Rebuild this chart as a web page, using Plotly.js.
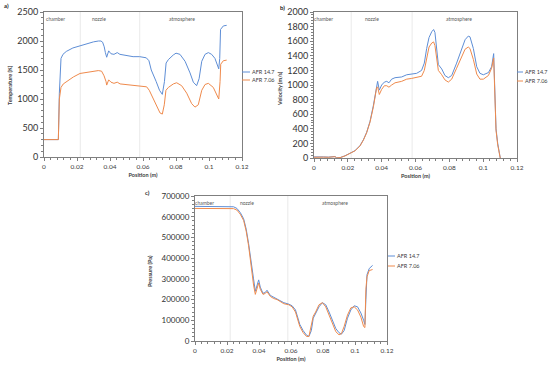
<!DOCTYPE html>
<html>
<head>
<meta charset="utf-8">
<script src="https://cdn.plot.ly/plotly-3.0.1.min.js"></script>
<style>html,body{margin:0;padding:0;background:#fff;}#chart{width:550px;height:368px;}</style>
</head>
<body>
<div id="chart"></div>
<script>
// ---------- DATA ----------
var seriesNames = ["AFR 14.7", "AFR 7.06"];
var regionLabels = ["chamber", "nozzle", "atmosphere"];
var regionLabelX_a = [0.0067, 0.0335, 0.0834];
var regionLabelX_b = [0.0057, 0.0345, 0.0855];
var regionLabelX_c = [0.006, 0.0327, 0.0878];
var regionBounds = [0.022, 0.058];
var xTickVals = [0, 0.02, 0.04, 0.06, 0.08, 0.1, 0.12];
var yTitles = ["Temperature (K)", "Velocity (m/s)", "Pressure (Pa)"];

// a) Temperature
var tempX_147 = [0, 0.0087, 0.0093, 0.0103, 0.0115, 0.0135, 0.0175, 0.0218, 0.026, 0.030, 0.033, 0.0345, 0.0355, 0.0365, 0.0372, 0.038, 0.0392, 0.0406, 0.0424, 0.0444, 0.046, 0.048, 0.051, 0.054, 0.058, 0.062, 0.0636, 0.065, 0.068, 0.070, 0.0717, 0.073, 0.074, 0.0754, 0.0784, 0.080, 0.0824, 0.0855, 0.0885, 0.0905, 0.0925, 0.094, 0.0956, 0.0976, 0.0996, 0.1016, 0.1036, 0.105, 0.1059, 0.1065, 0.107, 0.1087, 0.1107];
var temp_147 = [300, 300, 1100, 1700, 1770, 1820, 1880, 1920, 1950, 1985, 2000, 2000, 1980, 1900, 1800, 1720, 1830, 1780, 1770, 1800, 1770, 1760, 1750, 1730, 1730, 1710, 1660, 1500, 1300, 1150, 1080, 1300, 1620, 1680, 1760, 1790, 1770, 1650, 1450, 1290, 1230, 1350, 1650, 1770, 1800, 1770, 1700, 1600, 1520, 1700, 2200, 2260, 2270];
var tempX_706 = [0, 0.0087, 0.0093, 0.0103, 0.0117, 0.0137, 0.0178, 0.0218, 0.0259, 0.0299, 0.0329, 0.0349, 0.0364, 0.0376, 0.038, 0.0392, 0.0406, 0.0424, 0.0444, 0.0461, 0.0501, 0.0541, 0.0582, 0.0622, 0.0638, 0.0663, 0.0683, 0.0703, 0.0717, 0.0729, 0.0739, 0.0754, 0.0784, 0.0804, 0.0834, 0.0865, 0.0895, 0.0915, 0.0935, 0.0956, 0.0976, 0.0996, 0.1026, 0.1046, 0.1059, 0.1067, 0.1071, 0.1087, 0.1107];
var temp_706 = [300, 300, 1000, 1200, 1260, 1300, 1380, 1440, 1460, 1480, 1490, 1480, 1400, 1300, 1240, 1330, 1290, 1270, 1290, 1260, 1250, 1240, 1230, 1210, 1150, 1000, 850, 760, 740, 900, 1150, 1200, 1260, 1280, 1230, 1100, 920, 860, 900, 1150, 1250, 1270, 1200, 1080, 1000, 1300, 1600, 1660, 1670];

// b) Velocity
var velX = [0, 0.0026, 0.0055, 0.0085, 0.0104, 0.0114, 0.0124, 0.0134, 0.0154, 0.0183, 0.0213, 0.0242, 0.0272, 0.0292, 0.0311, 0.0331, 0.0351, 0.0361, 0.037, 0.0376, 0.0386, 0.04, 0.0416, 0.043, 0.0443, 0.0459, 0.0479, 0.0518, 0.0548, 0.0577, 0.0607, 0.0636, 0.0652, 0.0666, 0.068, 0.0696, 0.0707, 0.0715, 0.0725, 0.0735, 0.0755, 0.0774, 0.0794, 0.0814, 0.0843, 0.0873, 0.0893, 0.0912, 0.0922, 0.0942, 0.0962, 0.0981, 0.1001, 0.1031, 0.105, 0.1062, 0.107, 0.1076, 0.1086, 0.1096, 0.1101];
var vel_147 = [15, 18, 15, 12, 15, 25, 20, 3, 5, 30, 60, 100, 170, 250, 350, 500, 720, 850, 1000, 1050, 930, 1000, 1040, 1050, 1030, 1080, 1100, 1110, 1140, 1150, 1160, 1200, 1300, 1500, 1650, 1730, 1760, 1720, 1500, 1280, 1220, 1130, 1100, 1130, 1300, 1500, 1620, 1670, 1660, 1500, 1250, 1160, 1140, 1170, 1250, 1430, 900, 400, 200, 50, 0];
var vel_706 = [10, 15, 12, 10, 12, 20, 18, 2, 5, 28, 58, 98, 165, 245, 345, 490, 700, 820, 960, 975, 870, 940, 990, 990, 970, 1000, 1030, 1050, 1080, 1090, 1100, 1120, 1200, 1380, 1520, 1575, 1590, 1540, 1350, 1200, 1140, 1070, 1040, 1080, 1230, 1400, 1490, 1520, 1500, 1350, 1150, 1080, 1080, 1130, 1230, 1370, 800, 380, 180, 40, 0];

// c) Pressure
var presX = [0, 0.0073, 0.0136, 0.0199, 0.0241, 0.0262, 0.0283, 0.0304, 0.032, 0.0335, 0.0346, 0.0356, 0.0366, 0.0377, 0.0387, 0.0398, 0.0408, 0.0425, 0.044, 0.045, 0.0471, 0.0492, 0.0513, 0.0534, 0.0555, 0.0586, 0.0607, 0.0628, 0.0639, 0.0655, 0.0676, 0.0697, 0.0712, 0.0727, 0.0739, 0.0754, 0.0775, 0.0796, 0.0817, 0.0838, 0.0859, 0.088, 0.09, 0.0915, 0.0932, 0.0953, 0.0974, 0.0995, 0.1016, 0.1037, 0.1054, 0.1062, 0.1068, 0.1075, 0.1089, 0.111];
var pres_147 = [650000, 650000, 650000, 650000, 648000, 640000, 620000, 590000, 540000, 470000, 400000, 340000, 300000, 240000, 265000, 295000, 260000, 230000, 235000, 245000, 220000, 212000, 205000, 195000, 185000, 178000, 170000, 150000, 120000, 80000, 50000, 28000, 22000, 50000, 110000, 130000, 165000, 185000, 175000, 140000, 100000, 60000, 40000, 33000, 50000, 110000, 150000, 170000, 165000, 135000, 100000, 80000, 200000, 320000, 350000, 365000];
var pres_706 = [640000, 640000, 640000, 640000, 639000, 632000, 612000, 582000, 530000, 460000, 390000, 330000, 270000, 225000, 250000, 280000, 250000, 225000, 230000, 238000, 215000, 205000, 200000, 190000, 180000, 175000, 165000, 140000, 110000, 70000, 40000, 22000, 22000, 70000, 120000, 140000, 175000, 185000, 165000, 125000, 80000, 45000, 30000, 35000, 70000, 125000, 160000, 165000, 150000, 115000, 70000, 65000, 250000, 310000, 340000, 345000];

// ---------- STYLE ----------
var colors = ["#5E8ED6", "#EF8A4C"];
var FONT = "Lato, 'Liberation Sans', sans-serif";
var W = 550, H = 368;
function px(x){ return x / W; }
function py(y){ return 1 - y / H; }

function line(x, y, i, xa, ya){
  return {x: x, y: y, type: "scatter", mode: "lines", name: seriesNames[i],
    xaxis: xa, yaxis: ya, showlegend: false,
    line: {color: colors[i], width: 1}, hoverinfo: "skip"};
}

var traces = [
  line(tempX_147, temp_147, 0, "x", "y"),
  line(tempX_706, temp_706, 1, "x", "y"),
  line(velX, vel_147, 0, "x2", "y2"),
  line(velX, vel_706, 1, "x2", "y2"),
  line(presX, pres_147, 0, "x3", "y3"),
  line(presX, pres_706, 1, "x3", "y3")
];

function xAxis(domain, anchor){
  return {domain: domain, anchor: anchor, range: [0, 0.12], tickvals: xTickVals,
    ticktext: xTickVals.map(function(v){return String(v);}),
    showgrid: false, zeroline: false, showline: true, mirror: true,
    linecolor: "#7f7f7f", linewidth: 1, ticks: "outside", ticklen: 3, tickcolor: "#7f7f7f",
    minor: {dtick: 0.004, ticks: "outside", ticklen: 2, tickcolor: "#7f7f7f", showgrid: false},
    tickfont: {family: FONT, size: 6.5, color: "#404040"},
    title: {text: "Position (m)", font: {family: FONT, size: 5.5, color: "#404040", weight: "bold"}, standoff: 4}};
}
function yAxis(domain, anchor, range, dtick, minorDtick, fsize){
  return {domain: domain, anchor: anchor, range: range, dtick: dtick, tickformat: "d",
    showgrid: false, zeroline: false, showline: true, mirror: true,
    linecolor: "#7f7f7f", linewidth: 1, ticks: "outside", ticklen: 3, tickcolor: "#7f7f7f",
    minor: {dtick: minorDtick, ticks: "outside", ticklen: 2, tickcolor: "#7f7f7f", showgrid: false},
    tickfont: {family: FONT, size: fsize, color: "#333333"}};
}

var layout = {
  width: W, height: H, margin: {l: 0, r: 0, t: 0, b: 0},
  paper_bgcolor: "#ffffff", plot_bgcolor: "#ffffff", showlegend: false,
  xaxis: xAxis([px(44), px(242)], "y"),
  yaxis: yAxis([py(157), py(12)], "x", [0, 2500], 500, 100, 9),
  xaxis2: xAxis([px(314), px(517)], "y2"),
  yaxis2: yAxis([py(158), py(12)], "x2", [0, 2000], 200, 40, 9),
  xaxis3: xAxis([px(195), px(387)], "y3"),
  yaxis3: yAxis([py(341), py(196)], "x3", [0, 700000], 100000, 20000, 8),
  font: {family: FONT, color: "#404040"}
};

var shapes = [];
var annotations = [];
var panels = [
  {x: "x", y: "y", lx: regionLabelX_a},
  {x: "x2", y: "y2", lx: regionLabelX_b},
  {x: "x3", y: "y3", lx: regionLabelX_c}
];
panels.forEach(function(p){
  regionBounds.forEach(function(b){
    shapes.push({type: "line", xref: p.x, yref: p.y + " domain", x0: b, x1: b, y0: 0, y1: 1,
      line: {color: "#e4e4e4", width: 0.8}, layer: "below"});
  });
  regionLabels.forEach(function(t, i){
    annotations.push({text: t, xref: p.x, yref: p.y + " domain", x: p.lx[i], y: 0.985,
      xanchor: "center", yanchor: "top", showarrow: false,
      font: {family: FONT, size: 5, color: "#595959"}});
  });
});

// y-axis titles (rotated)
[[10, 85], [280, 88], [150, 271]].forEach(function(t, i){
  annotations.push({text: "<b>" + yTitles[i] + "</b>", xref: "paper", yref: "paper",
    x: px(t[0]), y: py(t[1]), textangle: -90, xanchor: "center", yanchor: "middle",
    showarrow: false, font: {family: FONT, size: 5.5, color: "#404040"}});
});

// panel tags
[["a)", 6, 5], ["b)", 282, 7], ["c)", 147, 192]].forEach(function(t){
  annotations.push({text: "<b>" + t[0] + "</b>", xref: "paper", yref: "paper", x: px(t[1]), y: py(t[2]),
    xanchor: "center", yanchor: "middle", showarrow: false, font: {family: FONT, size: 6, color: "#262626"}});
});

// legends (line sample + text)
var legendPos = [
  {x0: 242, x1: 250, y: [72, 80]},
  {x0: 517, x1: 523, y: [72, 81]},
  {x0: 388, x1: 395, y: [256, 266]}
];
legendPos.forEach(function(L){
  seriesNames.forEach(function(n, i){
    shapes.push({type: "line", xref: "paper", yref: "paper", x0: px(L.x0), x1: px(L.x1),
      y0: py(L.y[i]), y1: py(L.y[i]), line: {color: colors[i], width: 1}});
    annotations.push({text: n, xref: "paper", yref: "paper", x: px(L.x1 + 0.5), y: py(L.y[i]),
      xanchor: "left", yanchor: "middle", showarrow: false, xshift: -1,
      font: {family: FONT, size: 5.5, color: "#404040"}});
  });
});

layout.shapes = shapes;
layout.annotations = annotations;

Plotly.newPlot("chart", traces, layout, {staticPlot: true, displayModeBar: false});
</script>
</body>
</html>
